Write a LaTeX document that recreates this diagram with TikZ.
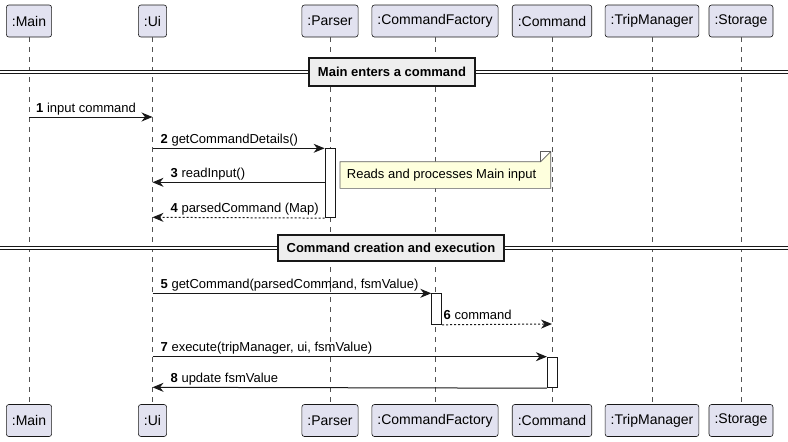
\documentclass[tikz,border=0pt]{standalone}
\usepackage{fontspec}
\setmainfont{Liberation Sans}
\usetikzlibrary{arrows.meta}
\definecolor{partfill}{HTML}{E2E2F0}
\definecolor{ink}{HTML}{181818}
\definecolor{notefill}{HTML}{FEFFDD}
\definecolor{divfill}{HTML}{EEEEEE}
\tikzset{
  part/.style={draw=ink, fill=partfill, line width=0.6pt, rounded corners=2.5pt,
    minimum height=32pt, inner xsep=5.5pt, font=\fontsize{14}{16}\selectfont},
  life/.style={draw=ink!75, line width=0.6pt, dash pattern=on 5pt off 5pt},
  act/.style={draw=ink, fill=white, line width=0.8pt, minimum width=10pt, inner sep=0pt, anchor=north},
  msg/.style={draw=ink, line width=1pt, -{Stealth[length=11pt, width=9pt, inset=3.5pt]}},
  ret/.style={msg, dash pattern=on 2pt off 2pt},
  lbl/.style={anchor=base west, inner sep=0pt, font=\fontsize{13}{15}\selectfont},
  divline/.style={draw=ink, line width=1pt, double=white, double distance=1.8pt},
  divbox/.style={draw=ink, fill=divfill, line width=1.6pt, inner sep=0pt,
    font=\fontsize{13}{15}\selectfont\bfseries},
  noteshape/.style={draw=ink!70, fill=notefill, line width=0.6pt},
  notetext/.style={anchor=west, inner sep=0pt, font=\fontsize{13}{15}\selectfont},
}
\begin{document}
\begin{tikzpicture}[x=1pt, y=-1pt]
\useasboundingbox (0,0) rectangle (788,442);

% participants, top and bottom, with their lifelines
\foreach \n/\x/\t in {main/29/{:Main}, ui/152.5/{:Ui}, parser/330/{:Parser},
    factory/435/{:CommandFactory}, command/552/{:Command},
    trip/652/{:TripManager}, storage/741/{:Storage}} {
  \node[part] (\n T) at (\x,21) {\t};
  \node[part] (\n B) at (\x,420.5) {\t};
  \draw[life] (\n T.south) -- (\n B.north);
}

% dividers
\coordinate (d1l) at (0,71.9);
\coordinate (d1r) at (788,71.9);
\draw[divline] (d1l) -- (d1r);
\node[divbox, minimum width=166pt, minimum height=28pt] (div1) at (392,72) {Main enters a command};

\coordinate (d2l) at (0,247.9);
\coordinate (d2r) at (788,247.9);
\draw[divline] (d2l) -- (d2r);
\node[divbox, minimum width=226pt, minimum height=26pt] (div2) at (391,248) {Command creation and execution};

% activation bars
\node[act, minimum height=69pt] (actP) at (330,148.3) {};
\node[act, minimum height=30.7pt] (actF) at (436.7,293.3) {};
\node[act, minimum height=30.7pt] (actC) at (552.3,356.7) {};

% lifeline points where the messages start or end
\coordinate (m1) at (29,117);
\coordinate (u1) at (152.5,117);
\coordinate (u2) at (152.5,148.3);
\coordinate (u3) at (152.5,182.3);
\coordinate (u4) at (152.5,217.3);
\coordinate (u5) at (152.5,293.3);
\coordinate (c6) at (552,324);
\coordinate (u7) at (152.5,356.7);
\coordinate (u8) at (152.5,387.3);

% messages
\draw[msg] (m1) -- (u1);
\node[lbl] (l1) at (36,112.3) {\textbf{1} input command};

\draw[msg] (u2) -- (actP.north west);
\node[lbl] (l2) at (160.5,143.5) {\textbf{2} getCommandDetails()};

\draw[msg] (actP.west |- u3) -- (u3);
\node[lbl] (l3) at (170.5,177.5) {\textbf{3} readInput()};

\draw[ret] (actP.south west) -- (u4);
\node[lbl] (l4) at (170.5,212.5) {\textbf{4} parsedCommand (Map)};

\draw[msg] (u5) -- (actF.north west);
\node[lbl] (l5) at (160.5,288.5) {\textbf{5} getCommand(parsedCommand, fsmValue)};

\draw[ret] (actF.south east) -- (c6);
\node[lbl] (l6) at (443.5,319.2) {\textbf{6} command};

\draw[msg] (u7) -- (actC.north west);
\node[lbl] (l7) at (160.5,351.9) {\textbf{7} execute(tripManager, ui, fsmValue)};

\draw[msg] (actC.south west) -- (u8);
\node[lbl] (l8) at (170.5,382.5) {\textbf{8} update fsmValue};

% note with a folded corner
\coordinate (nNW) at (340,161.7);
\coordinate (nSE) at (550.7,188.3);
\draw[noteshape] (nNW) -- ([xshift=-10pt]nSE |- nNW) -- ([yshift=10pt]nSE |- nNW)
  -- (nSE) -- (nNW |- nSE) -- cycle;
\draw[noteshape, fill=none] ([xshift=-10pt]nSE |- nNW) -- ([xshift=-10pt,yshift=10pt]nSE |- nNW)
  -- ([yshift=10pt]nSE |- nNW);
\node[notetext] (note) at (346.7,175.5) {Reads and processes Main input};
\end{tikzpicture}
\end{document}
